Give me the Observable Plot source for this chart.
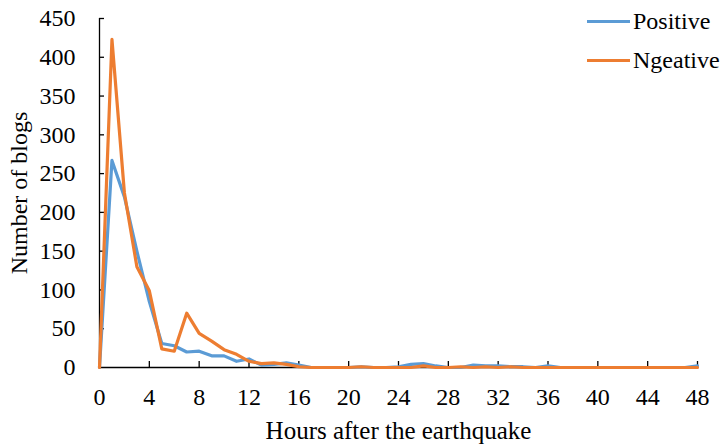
<!DOCTYPE html>
<html>
<head>
<meta charset="utf-8">
<script src="https://cdn.jsdelivr.net/npm/d3@7"></script>
<script src="https://cdn.jsdelivr.net/npm/@observablehq/plot@0.6"></script>
<style>
  html, body { margin: 0; padding: 0; background: #fff; }
  #wrap { position: relative; width: 727px; height: 448px; font-family: "Liberation Serif", "Times New Roman", serif; }
  #wrap svg text { font-family: "Liberation Serif", "Times New Roman", serif !important; font-variant: normal !important; }
  .leg { position: absolute; left: 587px; display: flex; align-items: center; font-size: 24px; color: #000; font-family: "Liberation Serif", "Times New Roman", serif; }
  .leg span.sw { display: inline-block; width: 43px; height: 3px; margin-right: 3px; }
</style>
</head>
<body>
<div id="wrap"></div>
<script>
const hours = d3.range(0, 49);
const positive = [0,267,220,150,85,31,28,20,21,15,15,8,11,3,4,6,3,0,0,0,0,1,0,0,1,4,5,2,0,0,3,2,2,1,1,0,2,0,0,0,0,0,0,0,0,0,0,0,2];
const negative = [0,423,225,130,99,24,21,70,44,34,23,17,8,5,6,4,1,0,0,0,0,1,0,0,0,0,2,0,0,1,0,1,0,1,0,0,0,0,0,0,0,0,0,0,0,0,0,0,0];
const seriesNames = ["Positive", "Ngeative"];
const seriesColors = ["#5B9BD5", "#ED7D31"];
const xTicks = [0,4,8,12,16,20,24,28,32,36,40,44,48];
const yTicks = [0,50,100,150,200,250,300,350,400,450];
const xLabel = "Hours after the earthquake";
const yLabel = "Number of blogs";

const posData = hours.map((h, i) => ({hour: h, value: positive[i]}));
const negData = hours.map((h, i) => ({hour: h, value: negative[i]}));

const serif = "'Liberation Serif', 'Times New Roman', serif";
const chart = Plot.plot({
  width: 727,
  height: 448,
  marginLeft: 99,
  marginRight: 30,
  marginTop: 18,
  marginBottom: 81,
  style: {fontFamily: serif, fontSize: "24px", color: "#000", background: "#fff"},
  x: {domain: [0, 48]},
  y: {domain: [0, 450]},
  marks: [
    Plot.axisX({ticks: xTicks, tickSize: 0, tickPadding: 20, fontSize: 24, fontVariant: "normal", label: null}),
    Plot.axisX({ticks: [], tickSize: 0, fontSize: 25, label: xLabel, labelAnchor: "center", labelOffset: 71, labelArrow: "none"}),
    Plot.axisY({ticks: yTicks, tickSize: 0, tickPadding: 24, fontSize: 24, fontVariant: "normal", label: yLabel, labelAnchor: "center", labelOffset: 90, labelArrow: "none"}),
    Plot.tickX(xTicks.slice(1), {x: d => d, insetTop: 343, stroke: "#000", strokeWidth: 1.3}),
    Plot.tickY(yTicks.slice(1), {y: d => d, insetRight: 593, stroke: "#000", strokeWidth: 1.3}),
    Plot.ruleY([0], {stroke: "#000", strokeWidth: 1.3}),
    Plot.ruleX([0], {stroke: "#000", strokeWidth: 1.3}),
    Plot.line(posData, {x: "hour", y: "value", stroke: seriesColors[0], strokeWidth: 3.2, strokeLinejoin: "round"}),
    Plot.line(negData, {x: "hour", y: "value", stroke: seriesColors[1], strokeWidth: 3.2, strokeLinejoin: "round"})
  ]
});
const wrap = document.getElementById("wrap");
wrap.appendChild(chart);
const legTops = [8, 47];
seriesNames.forEach((name, i) => {
  const d = document.createElement("div");
  d.className = "leg";
  d.style.top = legTops[i] + "px";
  d.innerHTML = `<span class="sw" style="background:${seriesColors[i]}"></span><span>${name}</span>`;
  wrap.appendChild(d);
});
</script>
</body>
</html>
